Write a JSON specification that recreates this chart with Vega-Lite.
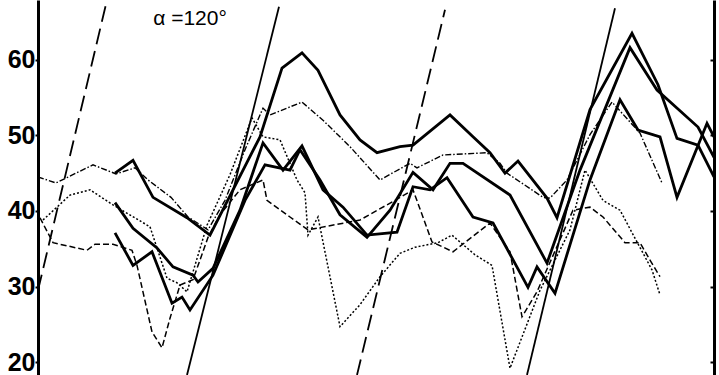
{
  "$schema": "https://vega.github.io/schema/vega-lite/v6.json",
  "width": 676,
  "height": 375,
  "autosize": {"type": "none"},
  "padding": {"left": 38, "right": 5, "top": 0, "bottom": 0},
  "background": "white",
  "config": {"view": {"stroke": null}},
  "datasets": {
    "series": [
      {"s":"T1","t":77,"v":45.0},{"s":"T1","t":95,"v":46.7},{"s":"T1","t":115,"v":41.8},{"s":"T1","t":149,"v":39.1},{"s":"T1","t":172,"v":36.8},{"s":"T1","t":222,"v":49.8},{"s":"T1","t":244,"v":58.9},{"s":"T1","t":264,"v":60.9},{"s":"T1","t":280,"v":58.6},{"s":"T1","t":302,"v":52.7},{"s":"T1","t":322,"v":49.4},{"s":"T1","t":339,"v":47.7},{"s":"T1","t":362,"v":48.5},{"s":"T1","t":375,"v":48.7},{"s":"T1","t":412,"v":52.7},{"s":"T1","t":435,"v":49.8},{"s":"T1","t":452,"v":47.7},{"s":"T1","t":467,"v":45.0},{"s":"T1","t":480,"v":46.6},{"s":"T1","t":509,"v":41.7},{"s":"T1","t":519,"v":39.1},{"s":"T1","t":552,"v":53.4},{"s":"T1","t":594,"v":63.5},{"s":"T1","t":620,"v":56.7},{"s":"T1","t":639,"v":49.6},{"s":"T1","t":660,"v":48.7},{"s":"T1","t":676,"v":44.5},
      {"s":"T2","t":77,"v":41.1},{"s":"T2","t":95,"v":37.7},{"s":"T2","t":119,"v":35.1},{"s":"T2","t":135,"v":32.6},{"s":"T2","t":155,"v":31.5},{"s":"T2","t":160,"v":30.6},{"s":"T2","t":175,"v":32.4},{"s":"T2","t":202,"v":40.1},{"s":"T2","t":225,"v":49.0},{"s":"T2","t":245,"v":45.4},{"s":"T2","t":264,"v":48.6},{"s":"T2","t":285,"v":42.8},{"s":"T2","t":305,"v":40.5},{"s":"T2","t":329,"v":36.8},{"s":"T2","t":359,"v":37.2},{"s":"T2","t":375,"v":43.2},{"s":"T2","t":392,"v":42.8},{"s":"T2","t":409,"v":44.4},{"s":"T2","t":435,"v":39.2},{"s":"T2","t":455,"v":38.4},{"s":"T2","t":490,"v":29.9},{"s":"T2","t":499,"v":32.6},{"s":"T2","t":517,"v":29.1},{"s":"T2","t":552,"v":44.1},{"s":"T2","t":582,"v":54.7},{"s":"T2","t":600,"v":50.7},{"s":"T2","t":622,"v":49.8},{"s":"T2","t":639,"v":41.8},{"s":"T2","t":669,"v":51.6},{"s":"T2","t":676,"v":49.8},
      {"s":"T3","t":77,"v":37.1},{"s":"T3","t":95,"v":32.8},{"s":"T3","t":114,"v":34.6},{"s":"T3","t":134,"v":27.8},{"s":"T3","t":144,"v":28.6},{"s":"T3","t":152,"v":26.9},{"s":"T3","t":175,"v":31.5},{"s":"T3","t":207,"v":41.4},{"s":"T3","t":227,"v":46.1},{"s":"T3","t":252,"v":45.4},{"s":"T3","t":262,"v":48.1},{"s":"T3","t":282,"v":44.1},{"s":"T3","t":302,"v":39.5},{"s":"T3","t":329,"v":36.5},{"s":"T3","t":352,"v":40.1},{"s":"T3","t":375,"v":45.1},{"s":"T3","t":395,"v":42.8},{"s":"T3","t":412,"v":46.3},{"s":"T3","t":425,"v":46.3},{"s":"T3","t":472,"v":42.1},{"s":"T3","t":509,"v":33.1},{"s":"T3","t":542,"v":45.4},{"s":"T3","t":592,"v":61.6},{"s":"T3","t":619,"v":56.0},{"s":"T3","t":660,"v":51.1},{"s":"T3","t":676,"v":47.1},
      {"s":"L1","t":0,"v":44.5},{"s":"L1","t":18,"v":43.7},{"s":"L1","t":55,"v":46.1},{"s":"L1","t":78,"v":44.9},{"s":"L1","t":97,"v":45.7},{"s":"L1","t":110,"v":44.1},{"s":"L1","t":133,"v":41.8},{"s":"L1","t":150,"v":39.2},{"s":"L1","t":170,"v":37.5},{"s":"L1","t":187,"v":41.4},{"s":"L1","t":207,"v":48.1},{"s":"L1","t":225,"v":53.6},{"s":"L1","t":232,"v":52.7},{"s":"L1","t":264,"v":54.4},{"s":"L1","t":285,"v":52.0},{"s":"L1","t":312,"v":48.5},{"s":"L1","t":342,"v":44.1},{"s":"L1","t":372,"v":46.3},{"s":"L1","t":379,"v":45.7},{"s":"L1","t":405,"v":47.4},{"s":"L1","t":449,"v":47.7},{"s":"L1","t":462,"v":46.3},{"s":"L1","t":469,"v":45.0},{"s":"L1","t":505,"v":41.8},{"s":"L1","t":512,"v":41.7},{"s":"L1","t":529,"v":44.1},{"s":"L1","t":552,"v":50.1},{"s":"L1","t":574,"v":54.4},{"s":"L1","t":602,"v":50.3},{"s":"L1","t":614,"v":46.7},{"s":"L1","t":624,"v":43.7},
      {"s":"L2","t":5,"v":38.8},{"s":"L2","t":32,"v":42.1},{"s":"L2","t":52,"v":42.8},{"s":"L2","t":75,"v":40.8},{"s":"L2","t":112,"v":37.9},{"s":"L2","t":129,"v":31.1},{"s":"L2","t":139,"v":30.5},{"s":"L2","t":149,"v":29.3},{"s":"L2","t":169,"v":38.1},{"s":"L2","t":192,"v":44.8},{"s":"L2","t":214,"v":52.3},{"s":"L2","t":225,"v":49.8},{"s":"L2","t":242,"v":49.4},{"s":"L2","t":259,"v":44.1},{"s":"L2","t":267,"v":42.4},{"s":"L2","t":270,"v":36.8},{"s":"L2","t":280,"v":39.2},{"s":"L2","t":285,"v":35.9},{"s":"L2","t":302,"v":24.7},{"s":"L2","t":322,"v":27.6},{"s":"L2","t":342,"v":31.3},{"s":"L2","t":362,"v":34.4},{"s":"L2","t":377,"v":35.2},{"s":"L2","t":400,"v":35.8},{"s":"L2","t":414,"v":36.8},{"s":"L2","t":437,"v":34.2},{"s":"L2","t":454,"v":32.8},{"s":"L2","t":472,"v":19.2},{"s":"L2","t":502,"v":29.5},{"s":"L2","t":532,"v":37.5},{"s":"L2","t":547,"v":45.4},{"s":"L2","t":565,"v":41.4},{"s":"L2","t":582,"v":40.1},{"s":"L2","t":599,"v":35.9},{"s":"L2","t":614,"v":32.2},{"s":"L2","t":622,"v":28.9},
      {"s":"L3","t":2,"v":39.1},{"s":"L3","t":15,"v":35.8},{"s":"L3","t":49,"v":34.8},{"s":"L3","t":57,"v":35.6},{"s":"L3","t":75,"v":35.6},{"s":"L3","t":94,"v":34.8},{"s":"L3","t":99,"v":32.8},{"s":"L3","t":114,"v":24.0},{"s":"L3","t":124,"v":21.9},{"s":"L3","t":132,"v":25.8},{"s":"L3","t":142,"v":30.2},{"s":"L3","t":155,"v":30.9},{"s":"L3","t":170,"v":36.5},{"s":"L3","t":182,"v":39.5},{"s":"L3","t":202,"v":42.8},{"s":"L3","t":225,"v":44.1},{"s":"L3","t":229,"v":41.4},{"s":"L3","t":252,"v":39.2},{"s":"L3","t":270,"v":37.5},{"s":"L3","t":322,"v":38.8},{"s":"L3","t":357,"v":41.4},{"s":"L3","t":375,"v":42.8},{"s":"L3","t":394,"v":35.9},{"s":"L3","t":415,"v":34.6},{"s":"L3","t":452,"v":38.4},{"s":"L3","t":472,"v":34.6},{"s":"L3","t":484,"v":26.0},{"s":"L3","t":499,"v":29.3},{"s":"L3","t":522,"v":36.2},{"s":"L3","t":535,"v":40.1},{"s":"L3","t":552,"v":40.5},{"s":"L3","t":565,"v":39.2},{"s":"L3","t":587,"v":35.8},{"s":"L3","t":602,"v":35.8},{"s":"L3","t":612,"v":33.5},{"s":"L3","t":622,"v":31.3}
    ],
    "refs": [
      {"s":"D1","k":"dashed","t":0,"v":29.5},{"s":"D1","k":"dashed","t":69,"v":67.9},
      {"s":"R1","k":"solid","t":149,"v":18.3},{"s":"R1","k":"solid","t":241,"v":67.0},
      {"s":"D2","k":"dashed","t":319,"v":18.3},{"s":"D2","k":"dashed","t":407,"v":66.6},
      {"s":"R2","k":"solid","t":489,"v":18.3},{"s":"R2","k":"solid","t":577,"v":66.8}
    ],
    "label": [{"t":152,"v":65.4,"txt":"α =120°"}]
  },
  "resolve": {"scale": {"y": "independent"}},
  "layer": [
    {
      "data": {"name": "series"},
      "encoding": {
        "x": {"field": "t", "type": "quantitative", "scale": {"domain": [0, 676], "nice": false, "zero": false}, "axis": null},
        "y": {"field": "v", "type": "quantitative", "scale": {"domain": [18.3, 67.9], "nice": false, "zero": false},
          "axis": {"orient": "left", "values": [20, 30, 40, 50, 60], "title": null, "grid": false,
            "domainWidth": 3, "domainColor": "black", "tickColor": "black", "tickWidth": 2, "tickSize": 3,
            "labelFont": "Liberation Sans", "labelFontSize": 25, "labelFontWeight": "bold", "labelColor": "black", "labelPadding": 0}},
        "detail": {"field": "s"}
      },
      "layer": [
        {"transform": [{"filter": "indexof(['T1','T2','T3'], datum.s) >= 0"}],
         "mark": {"type": "line", "color": "black", "strokeWidth": 2.8, "clip": true}},
        {"transform": [{"filter": "datum.s === 'L1'"}],
         "mark": {"type": "line", "color": "black", "strokeWidth": 1.4, "strokeDash": [6, 2, 1.5, 2], "clip": true}},
        {"transform": [{"filter": "datum.s === 'L2'"}],
         "mark": {"type": "line", "color": "black", "strokeWidth": 1.5, "strokeDash": [2, 2], "clip": true}},
        {"transform": [{"filter": "datum.s === 'L3'"}],
         "mark": {"type": "line", "color": "black", "strokeWidth": 1.5, "strokeDash": [6, 3], "clip": true}}
      ]
    },
    {
      "data": {"name": "refs"},
      "encoding": {
        "x": {"field": "t", "type": "quantitative", "scale": {"domain": [0, 676], "nice": false, "zero": false}, "axis": null},
        "y": {"field": "v", "type": "quantitative", "scale": {"domain": [18.3, 67.9], "nice": false, "zero": false},
          "axis": {"orient": "right", "values": [20, 30, 40, 50, 60], "title": null, "grid": false, "labels": false,
            "domainWidth": 3, "domainColor": "black", "tickColor": "black", "tickWidth": 2, "tickSize": -4}},
        "detail": {"field": "s"}
      },
      "layer": [
        {"transform": [{"filter": "datum.k === 'solid'"}],
         "mark": {"type": "line", "color": "black", "strokeWidth": 1.8, "clip": true}},
        {"transform": [{"filter": "datum.k === 'dashed'"}],
         "mark": {"type": "line", "color": "black", "strokeWidth": 1.8, "strokeDash": [16, 7], "clip": true}}
      ]
    },
    {
      "data": {"name": "label"},
      "mark": {"type": "text", "font": "Liberation Sans", "fontSize": 21, "color": "black", "align": "center", "baseline": "middle"},
      "encoding": {
        "x": {"field": "t", "type": "quantitative", "scale": {"domain": [0, 676], "nice": false, "zero": false}, "axis": null},
        "y": {"field": "v", "type": "quantitative", "scale": {"domain": [18.3, 67.9], "nice": false, "zero": false}, "axis": null},
        "text": {"field": "txt"}
      }
    }
  ]
}
